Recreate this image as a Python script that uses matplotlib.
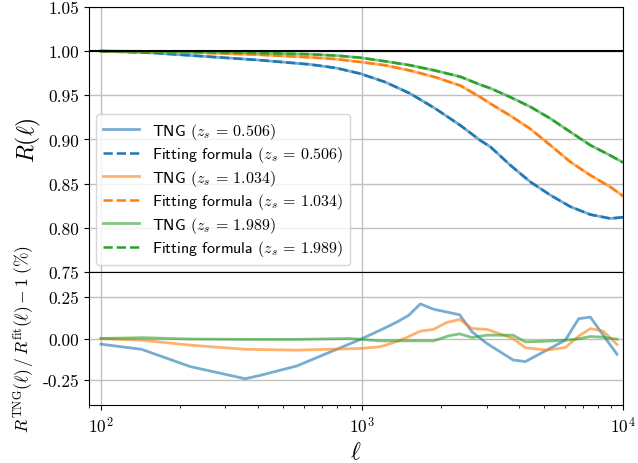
import numpy as np
import matplotlib
matplotlib.use("Agg")
import matplotlib.pyplot as plt

plt.rcParams['mathtext.fontset'] = 'cm'
plt.rcParams['font.family'] = 'serif'
plt.rcParams['font.serif'] = ['cmr10']
plt.rcParams['axes.formatter.use_mathtext'] = True

# fuentes z_s y colores
z_s = ['0.506', '1.034', '1.989']
colores = ['C0', 'C1', 'C2']

# R(ell), en log10(ell)
log_ell = [2.0, 2.2, 2.4, 2.6, 2.8, 2.9, 2.993, 3.089, 3.185, 3.281, 3.377, 3.453, 3.492,
           3.568, 3.645, 3.722, 3.798, 3.875, 3.951, 4.0]
R_z0506 = [1.000, 0.998, 0.994, 0.990, 0.985, 0.981, 0.9746, 0.965, 0.952, 0.935, 0.916, 0.899, 0.8917,
           0.871, 0.852, 0.837, 0.824, 0.815, 0.8106, 0.812]
R_z1034 = [1.000, 0.9995, 0.998, 0.996, 0.993, 0.991, 0.9878, 0.984, 0.978, 0.9705, 0.961, 0.948, 0.9406,
           0.927, 0.912, 0.8935, 0.8747, 0.8595, 0.8464, 0.836]
R_z1989 = [1.000, 0.9997, 0.999, 0.998, 0.9965, 0.995, 0.9926, 0.9885, 0.984, 0.978, 0.971, 0.962, 0.958,
           0.948, 0.937, 0.9237, 0.9086, 0.8935, 0.882, 0.874]
# la formula de ajuste coincide con TNG dentro del grosor de linea
R_fit_z0506 = R_z0506
R_fit_z1034 = R_z1034
R_fit_z1989 = R_z1989

# residuos (%) : vertices de cada curva
ell_res_0506 = [100, 143, 220, 357, 407, 563, 984, 1211, 1361, 1509, 1673, 1881, 2366, 2640, 3013, 3789, 4224, 6011, 6761, 7494, 9485]
res_0506 = [-0.034, -0.065, -0.169, -0.242, -0.222, -0.165, -0.006, 0.060, 0.099, 0.139, 0.208, 0.176, 0.143, 0.040, -0.030, -0.129, -0.139, -0.010, 0.119, 0.129, -0.095]
ell_res_1034 = [100, 143, 220, 357, 563, 984, 1169, 1292, 1455, 1673, 1881, 2100, 2366, 2640, 3013, 3350, 3789, 4224, 5100, 6011, 6761, 7494, 8400, 9485]
res_1034 = [0.0, -0.010, -0.040, -0.065, -0.070, -0.060, -0.050, -0.030, 0.000, 0.044, 0.055, 0.095, 0.115, 0.060, 0.055, 0.030, 0.000, -0.055, -0.070, -0.054, 0.014, 0.060, 0.044, -0.036]
ell_res_1989 = [100, 143, 220, 357, 563, 900, 1169, 1881, 2150, 2366, 2640, 3013, 3789, 4224, 5100, 6011, 6761, 7494, 8400, 9485]
res_1989 = [0.0, 0.005, -0.003, -0.005, -0.005, 0.0, -0.014, -0.014, 0.016, 0.028, 0.006, 0.020, 0.020, -0.020, -0.016, -0.010, -0.002, 0.012, 0.008, -0.004]

R_tng = [R_z0506, R_z1034, R_z1989]
R_fit = [R_fit_z0506, R_fit_z1034, R_fit_z1989]
ell_res = [ell_res_0506, ell_res_1034, ell_res_1989]
res = [res_0506, res_1034, res_1989]

ell = 10 ** np.array(log_ell)

fig = plt.figure(figsize=(6.38, 4.64), dpi=100)
ax1 = fig.add_axes([0.1395, 0.4116, 0.837, 0.5712])
ax2 = fig.add_axes([0.1395, 0.125, 0.837, 0.2866], sharex=ax1)

for i in range(3):
    ax1.plot(ell, R_tng[i], color=colores[i], lw=2, alpha=0.6,
             label=r'TNG $(z_s\,=\,%s)$' % z_s[i])
    ax1.plot(ell, R_fit[i], color=colores[i], lw=1.8, ls='--',
             label=r'Fitting formula $(z_s\,=\,%s)$' % z_s[i])
    ax2.plot(ell_res[i], res[i], color=colores[i], lw=2, alpha=0.6)

ax1.axhline(1.0, color='k', lw=1.5)
ax1.set_xscale('log')
ax1.set_xlim(90, 1e4)
ax1.set_ylim(0.75, 1.05)
ax1.set_yticks(np.arange(0.75, 1.051, 0.05))
ax1.yaxis.set_major_formatter(matplotlib.ticker.FormatStrFormatter('%.2f'))
ax1.tick_params(axis='x', which='both', length=0, labelbottom=False)
ax1.tick_params(axis='y', labelsize=12.5)
ax1.grid(True, color='#c0c0c0', lw=1)
ax1.set_ylabel(r'$R(\ell)$', fontsize=17)
ax1.legend(loc='lower left', prop={'family': 'cmss10', 'size': 11.5},
           handlelength=2.3, labelspacing=0.22, borderaxespad=0.45)

ax2.set_ylim(-0.4, 0.4)
ax2.set_yticks([-0.25, 0.0, 0.25])
ax2.yaxis.set_major_formatter(matplotlib.ticker.FormatStrFormatter('%.2f'))
ax2.tick_params(labelsize=12.5)
ax2.grid(True, color='#c0c0c0', lw=1)
ax2.set_ylabel(r'$R^{\rm TNG}(\ell)\,/\,R^{\rm fit}(\ell)-1\;(\%)$', fontsize=12.5)
ax2.set_xlabel(r'$\ell$', fontsize=17)

fig.savefig('out.png', dpi=100)
